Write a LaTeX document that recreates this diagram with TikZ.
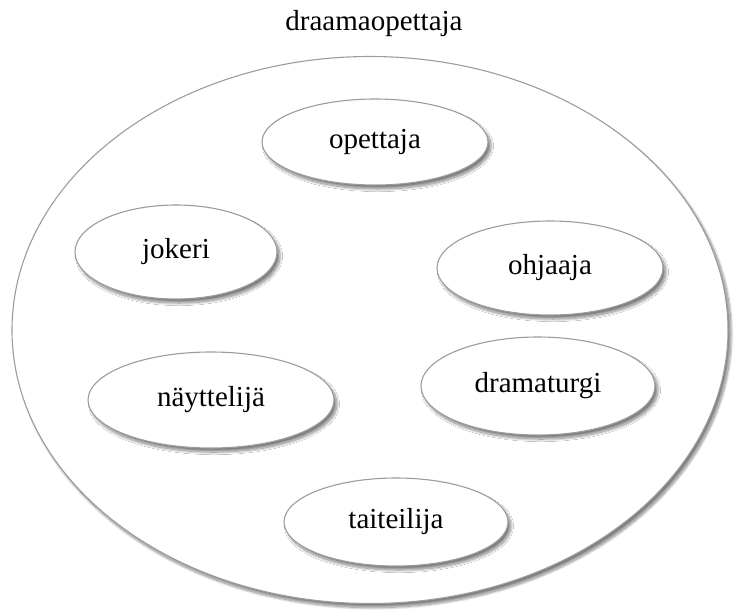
\documentclass[tikz,border=0pt]{standalone}
\usepackage{fontspec}
\setmainfont{Liberation Serif}
\usetikzlibrary{shapes.geometric,shadows.blur}
\definecolor{rim}{HTML}{9C9C9C}
\tikzset{
  role/.style={ellipse, draw=rim, line width=1.1pt, fill=white, inner sep=0pt,
    blur shadow={shadow xshift=3pt, shadow yshift=-4pt, shadow blur radius=2.5pt,
      shadow blur steps=24, shadow opacity=50}},
  label/.style={font=\fontsize{29}{33}\selectfont}
}
\begin{document}
\begin{tikzpicture}[x=1pt,y=-1pt]
  \useasboundingbox (0,0) rectangle (739,611);
  % title
  \node[label] (title) at (374,24) {draamaopettaja};
  % the surrounding ellipse
  \node[role, minimum width=716pt, minimum height=547pt] (frame) at (370,330) {};
  % the roles inside it
  \node[role, label, minimum width=226pt, minimum height=86pt]  (opettaja)   at (375,142) {opettaja};
  \node[role, label, minimum width=202pt, minimum height=94pt]  (jokeri)     at (176,252) {jokeri};
  \node[role, label, minimum width=226pt, minimum height=94pt]  (ohjaaja)    at (550,268) {ohjaaja};
  \node[role, label, minimum width=246pt, minimum height=96pt]  (nayttelija) at (211,400) {näyttelijä};
  \node[role, label, minimum width=234pt, minimum height=98pt]  (dramaturgi) at (538,386) {dramaturgi};
  \node[role, label, minimum width=224pt, minimum height=88pt]  (taiteilija) at (396,522) {taiteilija};
\end{tikzpicture}
\end{document}
